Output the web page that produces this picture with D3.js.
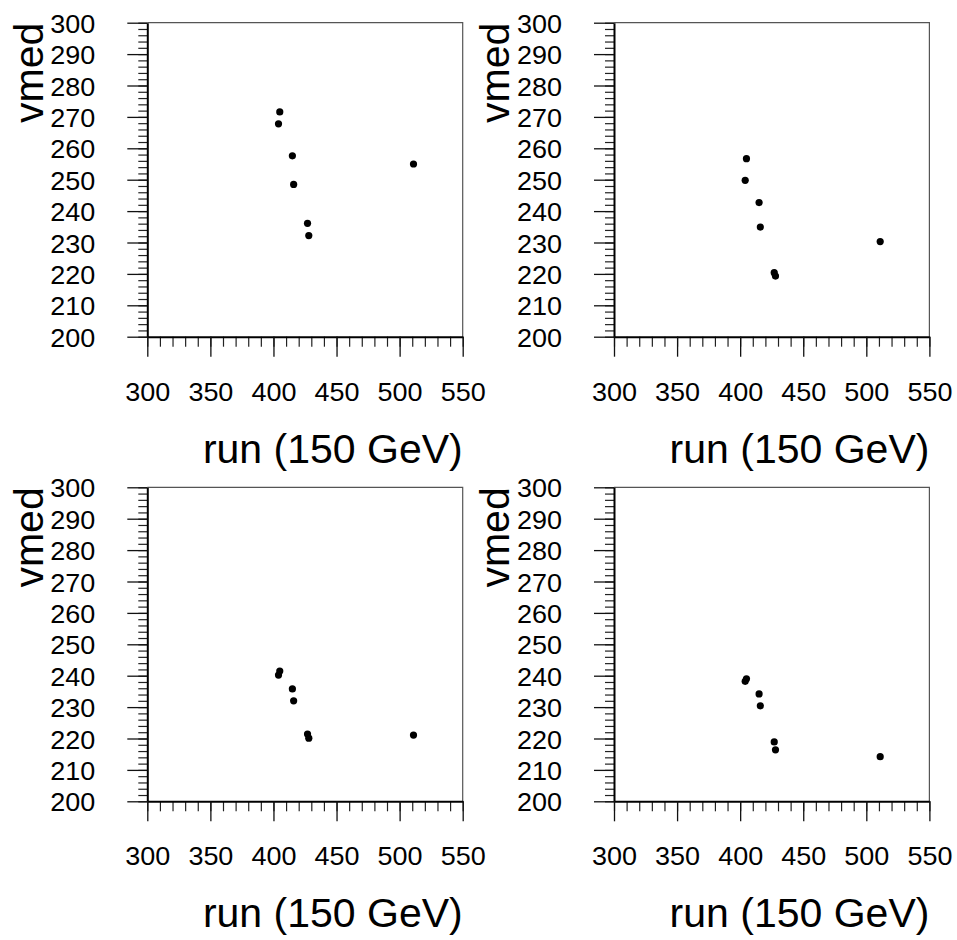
<!DOCTYPE html>
<html>
<head>
<meta charset="utf-8">
<script src="https://cdn.jsdelivr.net/npm/d3@7"></script>
<style>
  html, body { margin: 0; padding: 0; background: #fff; }
  svg { display: block; }
  text { font-family: "Liberation Sans", Arial, sans-serif; fill: #000; }
</style>
</head>
<body>
<svg id="chart" width="957" height="940"></svg>
<script>
// ---- data ----
const runs = [404, 405, 415, 416, 427, 428, 511];
const vmedA = [267.8, 271.6, 257.6, 248.5, 236.1, 232.2, 255.0];
const vmedB = [249.8, 256.7, 242.7, 234.9, 220.4, 219.3, 230.3];
const vmedC = [240.2, 241.5, 235.8, 232.0, 221.4, 220.1, 221.1];
const vmedD = [238.2, 239.0, 234.2, 230.4, 218.9, 216.4, 214.2];
const xTickLabels = [300, 350, 400, 450, 500, 550];
const yTickLabels = [200, 210, 220, 230, 240, 250, 260, 270, 280, 290, 300];
const xTitle = "run (150 GeV)";
const yTitle = "vmed";

const panels = [
  { vals: vmedA, left: 147.3, top: 22.7 },
  { vals: vmedB, left: 614.0, top: 22.7 },
  { vals: vmedC, left: 147.3, top: 487.3 },
  { vals: vmedD, left: 614.0, top: 487.3 }
];

const W = 315.4, H = 314;
const svg = d3.select("#chart");

panels.forEach(p => {
  const g = svg.append("g").attr("transform", `translate(${p.left},${p.top})`);
  const x = d3.scaleLinear().domain([300, 550]).range([0, W]);
  const y = d3.scaleLinear().domain([200, 300]).range([H, 0]);

  // frame (top + right)
  g.append("path")
    .attr("d", `M0,0H${W}V${H}`)
    .attr("fill", "none").attr("stroke", "#555").attr("stroke-width", 1.2);

  // minor y ticks
  const yMinor = d3.range(200, 301, 2);
  g.append("g")
    .call(d3.axisLeft(y).tickValues(yMinor).tickSize(9).tickSizeOuter(0).tickFormat(""))
    .call(s => s.select(".domain").remove())
    .selectAll("line").attr("stroke", "#222").attr("stroke-width", 1.2);
  // major y ticks
  const yAx = g.append("g")
    .call(d3.axisLeft(y).tickValues(yTickLabels).tickSize(20).tickSizeOuter(0).tickPadding(32).tickFormat(d3.format("d")));
  yAx.select(".domain").attr("stroke", "#000").attr("stroke-width", 2);
  yAx.selectAll("line").attr("stroke", "#111").attr("stroke-width", 1.3);
  yAx.selectAll("text").attr("font-size", 25).attr("font-family", "Liberation Sans, Arial, sans-serif")
    .attr("textLength", 45).attr("lengthAdjust", "spacingAndGlyphs")
    .attr("dy", "0.38em").attr("fill", "#000");

  // minor x ticks
  const xMinor = d3.range(300, 551, 10);
  g.append("g").attr("transform", `translate(0,${H})`)
    .call(d3.axisBottom(x).tickValues(xMinor).tickSize(10).tickSizeOuter(0).tickFormat(""))
    .call(s => s.select(".domain").remove())
    .selectAll("line").attr("stroke", "#222").attr("stroke-width", 1.2);
  const xAx = g.append("g").attr("transform", `translate(0,${H})`)
    .call(d3.axisBottom(x).tickValues(xTickLabels).tickSize(20).tickSizeOuter(0).tickPadding(44).tickFormat(d3.format("d")));
  xAx.select(".domain").attr("stroke", "#000").attr("stroke-width", 2);
  xAx.selectAll("line").attr("stroke", "#111").attr("stroke-width", 1.3);
  xAx.selectAll("text").attr("font-size", 25).attr("font-family", "Liberation Sans, Arial, sans-serif")
    .attr("textLength", 45).attr("lengthAdjust", "spacingAndGlyphs")
    .attr("dy", "0em").attr("fill", "#000");

  // points
  g.append("g").selectAll("circle")
    .data(runs.map((r, i) => ({ r, v: p.vals[i] })))
    .join("circle")
    .attr("cx", d => x(d.r))
    .attr("cy", d => y(d.v))
    .attr("r", 3.6)
    .attr("fill", "#000");

  // titles
  g.append("text")
    .attr("x", W).attr("y", H + 126)
    .attr("text-anchor", "end")
    .attr("font-size", 41)
    .text(xTitle);
  g.append("text")
    .attr("transform", `translate(${-104.6},0) rotate(-90)`)
    .attr("text-anchor", "end")
    .attr("font-size", 41)
    .text(yTitle);
});
</script>
</body>
</html>
